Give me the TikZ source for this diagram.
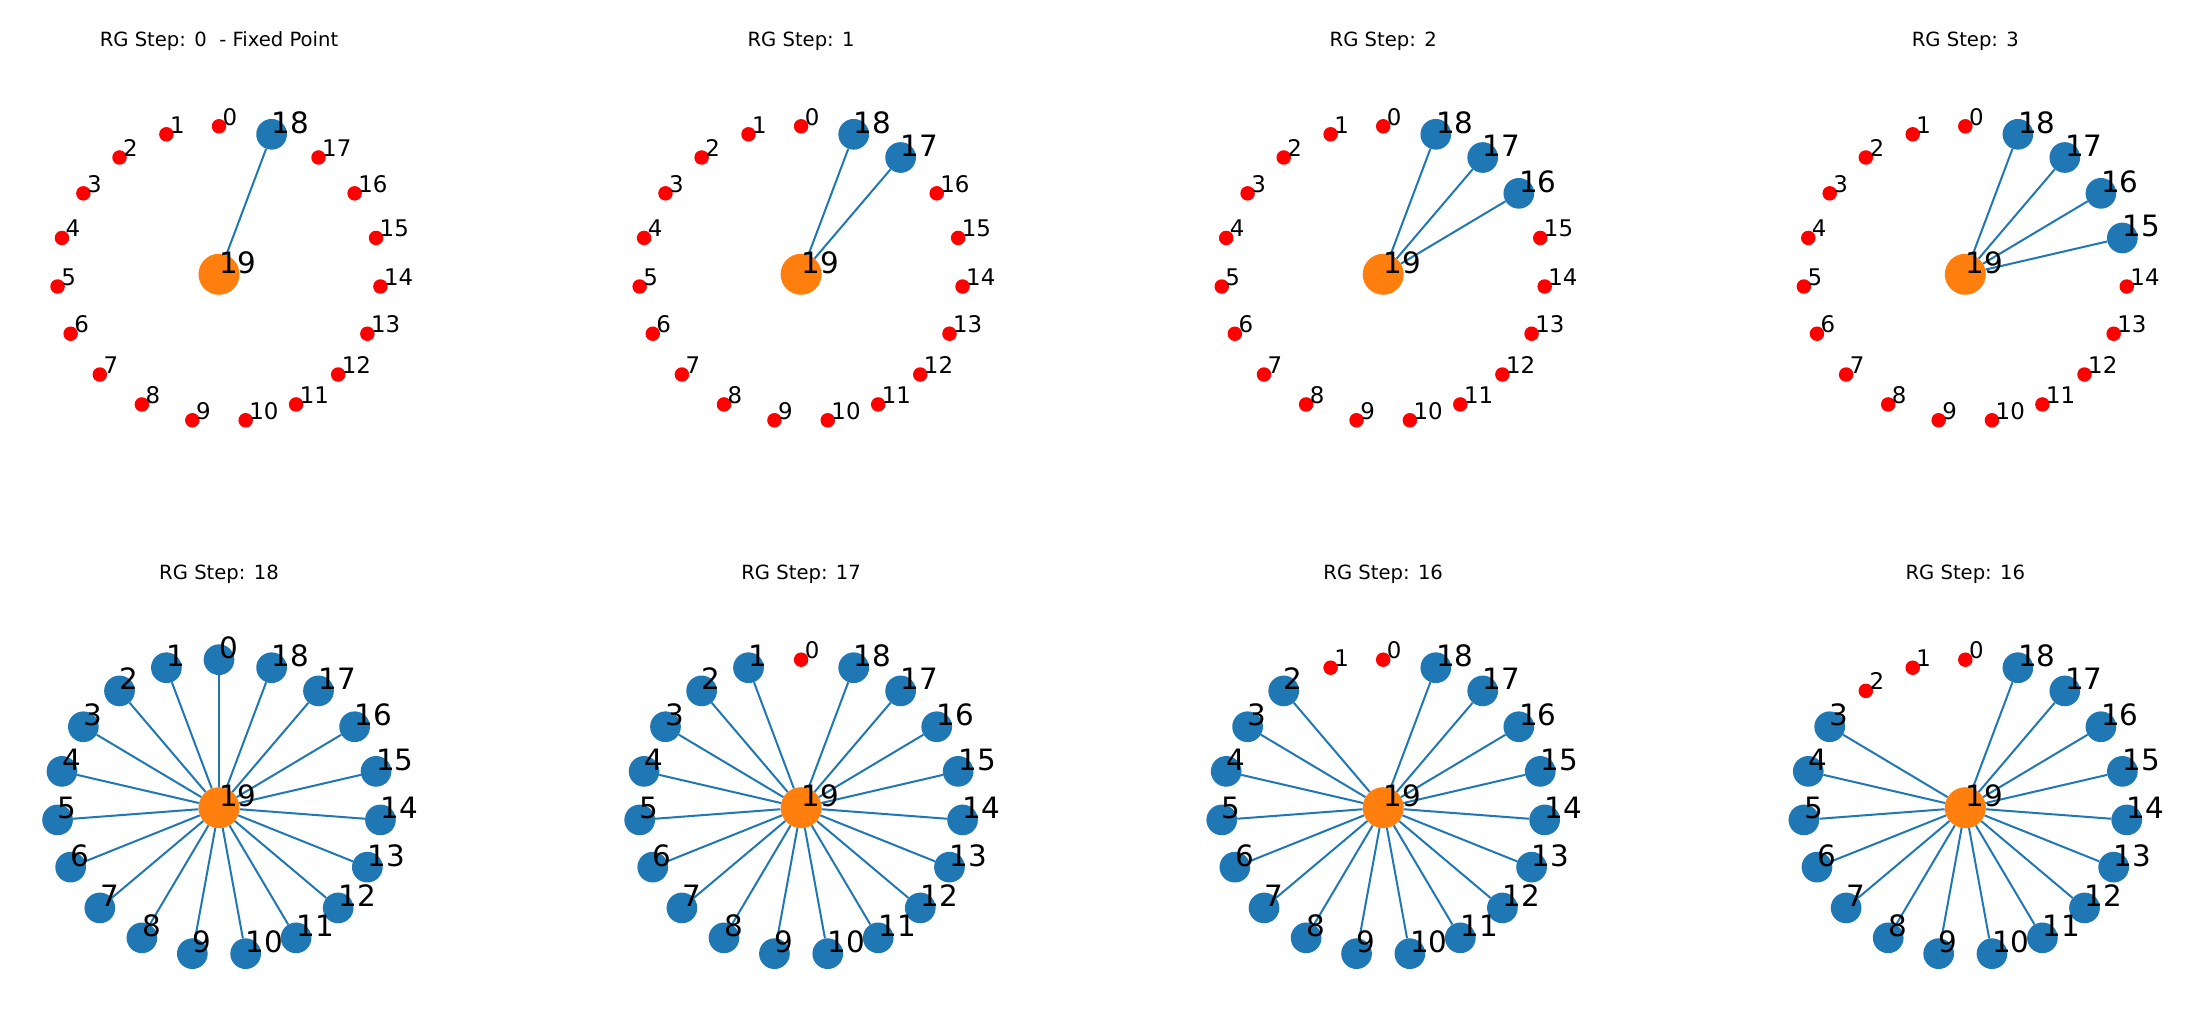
\documentclass[tikz,border=0pt]{standalone}
\usepackage{fontspec}
\setmainfont{DejaVu Sans}
\usepackage{tikz}
\usetikzlibrary{positioning}
\definecolor{nxblue}{HTML}{1F77B4}
\definecolor{nxorange}{HTML}{FF7F0E}
\definecolor{nxred}{HTML}{FF0000}
\tikzstyle{rednode} = [circle, fill=nxred, minimum size=14.5pt, inner sep=0pt]
\tikzstyle{bluenode} = [circle, fill=nxblue, minimum size=30.7pt, inner sep=0pt]
\tikzstyle{hubnode} = [circle, fill=nxorange, minimum size=41pt, inner sep=0pt]
\tikzstyle{link} = [draw=nxblue, line width=2pt]
\tikzstyle{smalllabel} = [anchor=base west, inner sep=0pt, xshift=3.5pt, yshift=1pt, font=\fontsize{22.9}{26}\selectfont]
\tikzstyle{biglabel} = [anchor=base west, inner sep=0pt, yshift=1pt, font=\fontsize{29.4}{32}\selectfont]
\tikzstyle{steptitle} = [anchor=base, inner sep=0pt, font=\fontsize{19.6}{22}\selectfont]

\begin{document}
\begin{tikzpicture}[x=1pt, y=1pt]

\path [fill=white] (0,0) rectangle (2200,1016);
\useasboundingbox (0,0) rectangle (2200,1016);

\foreach \pn/\cx/\cy/\lo/\rgtitle in {a/219/741.7/18/{RG Step: 0~~- Fixed Point},
    b/801.1/741.7/17/{RG Step: 1}, c/1383.2/741.7/16/{RG Step: 2}, d/1965.3/741.7/15/{RG Step: 3},
    e/219/208.3/0/{RG Step: 18}, f/801.1/208.3/1/{RG Step: 17},
    g/1383.2/208.3/2/{RG Step: 16}, h/1965.3/208.3/3/{RG Step: 16}}{
  % ring of 19 nodes round the hub
  \node (\pn-19) [hubnode] at (\cx,\cy) {};
  \foreach \i in {0,...,18}{
    \pgfmathsetmacro{\ang}{90+\i*360/19}
    \ifnum\i<\lo
      \node (\pn-\i) [rednode] at ({\cx+162*cos(\ang)},{\cy+148*sin(\ang)}) {};
    \else
      \node (\pn-\i) [bluenode] at ({\cx+162*cos(\ang)},{\cy+148*sin(\ang)}) {};
    \fi
  }
  \foreach \i in {\lo,...,18}{
    \draw [link] (\pn-19) -- (\pn-\i);
  }
  % labels
  \foreach \i in {0,...,18}{
    \ifnum\i<\lo
      \node (\pn-l\i) [smalllabel] at (\pn-\i.center) {\i};
    \else
      \node (\pn-l\i) [biglabel] at (\pn-\i.center) {\i};
    \fi
  }
  \node (\pn-l19) [biglabel] at (\pn-19.center) {19};
  \node (\pn-title) [steptitle] at (\cx,\cy+228) {\rgtitle};
}

\end{tikzpicture}
\end{document}
